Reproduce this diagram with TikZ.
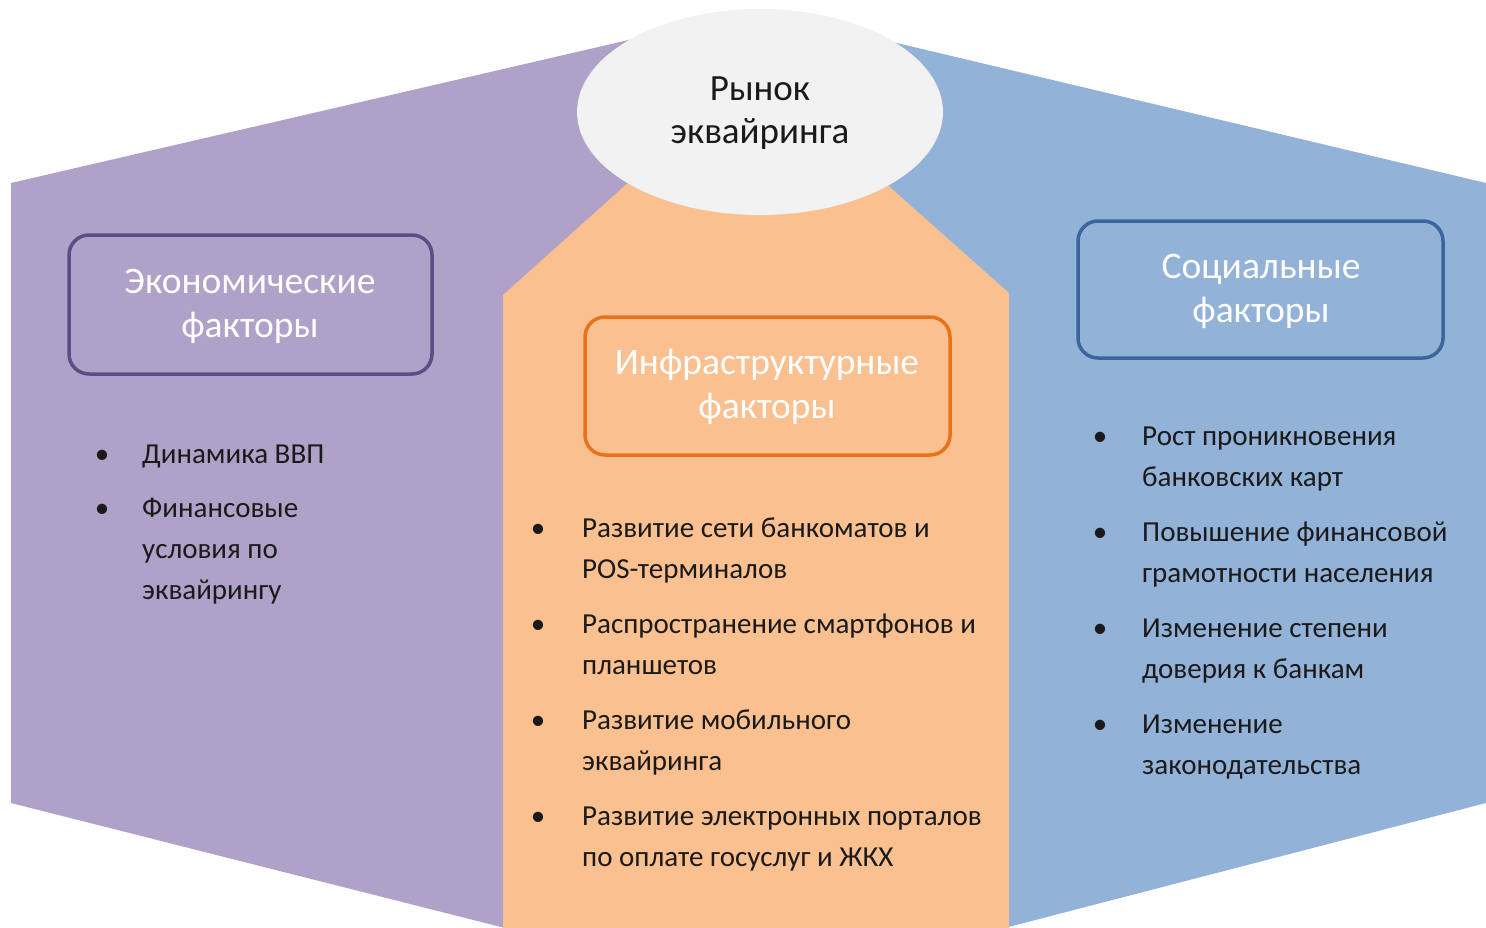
\documentclass[tikz,border=0pt]{standalone}
\usepackage{fontspec}
\setmainfont{Carlito}
\usetikzlibrary{shapes.geometric}
\definecolor{purplebg}{HTML}{B0A1C8}
\definecolor{bluebg}{HTML}{93B2D8}
\definecolor{orangebg}{HTML}{FAC08F}
\definecolor{ellfill}{HTML}{F2F2F2}
\definecolor{purpleln}{HTML}{5E4C86}
\definecolor{blueln}{HTML}{3A669C}
\definecolor{orangeln}{HTML}{E8731A}
\definecolor{txt}{HTML}{1A1A1A}
\begin{document}
\begin{tikzpicture}[x=1pt,y=-1pt,
  factorbox/.style={draw, line width=3.5pt, rounded corners=20pt, inner sep=0pt},
  boxtext/.style={align=center, text=white, font=\fontsize{37.5}{44}\selectfont, inner sep=0pt, anchor=base},
  itemtext/.style={anchor=base west, align=left, text=txt, inner sep=0pt, font=\fontsize{29}{41}\selectfont},
  bul/.style={anchor=base, text=txt, inner sep=0pt, font=\fontsize{29}{41}\selectfont}]
\useasboundingbox (0,0) rectangle (1486,927);
\fill[white] (0,0) rectangle (1486,927);
\begin{scope}
\clip (0,0) rectangle (1486,927);
% hexagon halves
\fill[purplebg] (11,183) -- (758,10) -- (758,992) -- (11,803) -- cycle;
\fill[bluebg] (1486,183) -- (758,10) -- (758,992) -- (1486,803) -- cycle;
% orange middle
\fill[orangebg] (503,930) -- (503,295) -- (756,68) -- (1009,293) -- (1009,930) -- cycle;
\end{scope}
% ellipse
\node[ellipse, fill=ellfill, minimum width=366pt, minimum height=206pt, inner sep=0pt] (market) at (760,112) {};
\node[align=center, text=txt, inner sep=0pt, font=\fontsize{37}{43}\selectfont, anchor=base] (markettext) at (760,143) {Рынок\\эквайринга};
% boxes
\draw[factorbox, purpleln] (69,235) rectangle (432,374);
\node[boxtext] (econ) at (250,337) {Экономические\\факторы};
\draw[factorbox, orangeln] (585,317) rectangle (950,455);
\node[boxtext] (infra) at (767,418) {Инфраструктурные\\факторы};
\draw[factorbox, blueln] (1078,221) rectangle (1443,358);
\node[boxtext] (soc) at (1261,322) {Социальные\\факторы};
% left list
\node[bul] (lb1) at (102,463) {•};
\node[itemtext] (l1) at (142,463) {Динамика ВВП};
\node[bul] (lb2) at (102,517) {•};
\node[itemtext] (l2) at (142,599) {Финансовые\\условия по\\эквайрингу};
% center list
\node[bul] (cb1) at (538,537) {•};
\node[itemtext] (c1) at (582,578) {Развитие сети банкоматов и\\POS-терминалов};
\node[bul] (cb2) at (538,633) {•};
\node[itemtext] (c2) at (582,674) {Распространение смартфонов и\\планшетов};
\node[bul] (cb3) at (538,729) {•};
\node[itemtext] (c3) at (582,770) {Развитие мобильного\\эквайринга};
\node[bul] (cb4) at (538,825) {•};
\node[itemtext] (c4) at (582,866) {Развитие электронных порталов\\по оплате госуслуг и ЖКХ};
% right list
\node[bul] (rb1) at (1100,445) {•};
\node[itemtext] (r1) at (1142,486) {Рост проникновения\\банковских карт};
\node[bul] (rb2) at (1100,541) {•};
\node[itemtext] (r2) at (1142,582) {Повышение финансовой\\грамотности населения};
\node[bul] (rb3) at (1100,637) {•};
\node[itemtext] (r3) at (1142,678) {Изменение степени\\доверия к банкам};
\node[bul] (rb4) at (1100,733) {•};
\node[itemtext] (r4) at (1142,774) {Изменение\\законодательства};
\end{tikzpicture}
\end{document}
